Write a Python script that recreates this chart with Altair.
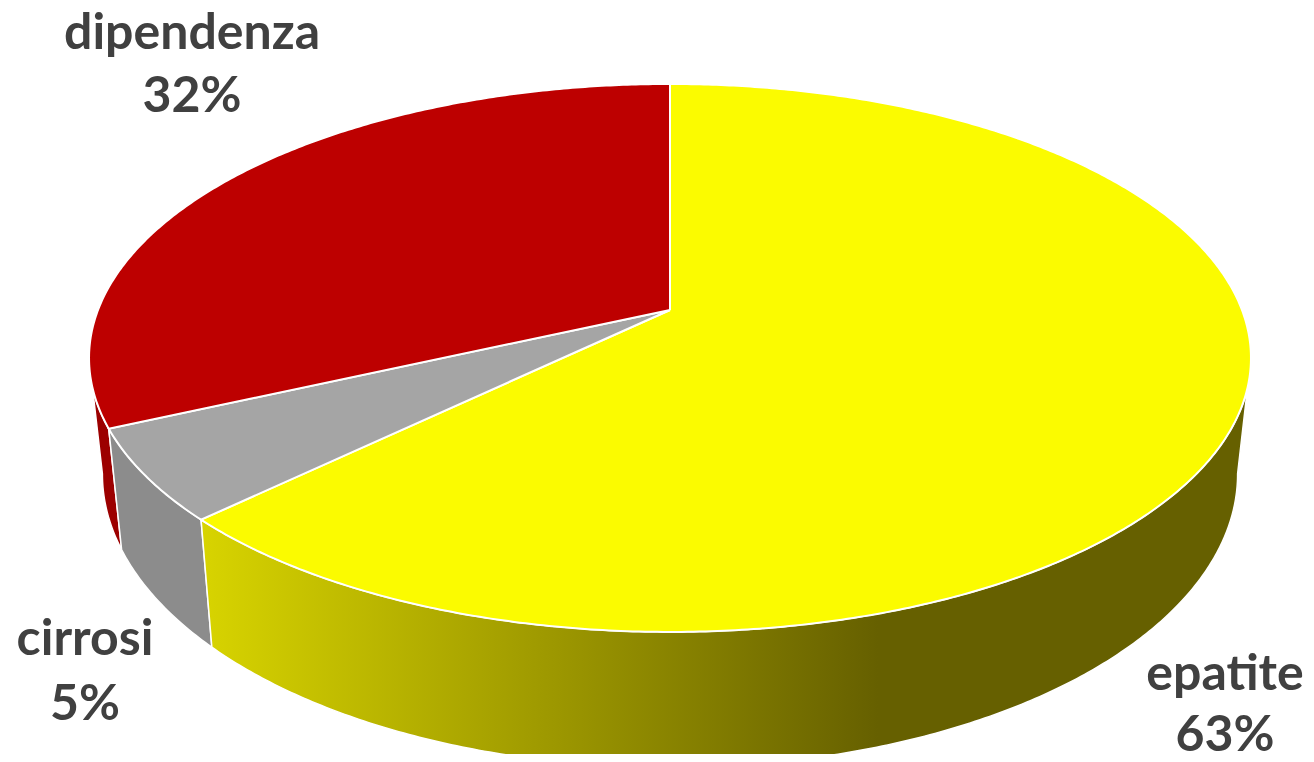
import math
import altair as alt
import pandas as pd

categories = ["epatite", "cirrosi", "dipendenza"]
shares = [62.8, 5.4, 31.8]
top_colors = ["#fbfb00", "#a5a5a5", "#bd0000"]
side_fills = [
    alt.Gradient(gradient="linear", x1=0, x2=1, y1=0, y2=0, stops=[
        alt.GradientStop(offset=0, color="#d8d400"),
        alt.GradientStop(offset=0.645, color="#666000"),
        alt.GradientStop(offset=1, color="#666000")]),
    alt.Gradient(gradient="linear", x1=0, x2=1, y1=0, y2=0, stops=[
        alt.GradientStop(offset=0, color="#8c8c8c"),
        alt.GradientStop(offset=1, color="#8c8c8c")]),
    "#9c0000",
]
label_x = [1225, 85, 192]
name_y = [675, 640, 34]
pct_y = [736, 705, 97]

CX, CY, A, B, K = 670, 310, 265.6, 572, 0.175
SX, DY0, DYK, YREF = 0.977, 121, 0.07, 427
FRONT_START, FRONT_END = 100, 260


def top(t):
    r = math.radians(t)
    d = 1 + K * math.cos(r)
    return CX + B * math.sin(r) / d, CY - A * math.cos(r) / d


def bottom(t):
    x, y = top(t)
    return CX + SX * (x - CX), y + DY0 + DYK * (y - YREF)


def arc(fn, a, b):
    n = max(2, int(abs(b - a) * 2))
    return [fn(a + (b - a) * i / n) for i in range(n + 1)]


def polygon(pts):
    pts = pts + [pts[0]]
    return pd.DataFrame({"x": [p[0] for p in pts], "y": [p[1] for p in pts], "o": range(len(pts))})


W, H = 1294, 746
xs = alt.Scale(domain=[8, 8 + W], range=[0, W])
ys = alt.Scale(domain=[8, 8 + H], range=[0, H])


def shape(df, fill, sw):
    return alt.Chart(df).mark_line(fill=fill, stroke="white", strokeWidth=sw, clip=True, interpolate="linear").encode(
        x=alt.X("x:Q", scale=xs, axis=None),
        y=alt.Y("y:Q", scale=ys, axis=None),
        order="o:Q",
    )


bounds = []
acc = 0
for s in shares:
    bounds.append((acc * 3.6, (acc + s) * 3.6))
    acc += s

side_layers = []
top_layers = []
for (a, b), tc, sf in zip(bounds, top_colors, side_fills):
    sa, sb = max(a, FRONT_START), min(b, FRONT_END)
    side_layers.append(shape(polygon(arc(top, sa, sb) + arc(bottom, sb, sa)), sf, 1.5))
    top_layers.append(shape(polygon([(CX, CY)] + arc(top, a, b)), tc, 2))
side_layers = [side_layers[2], side_layers[1], side_layers[0]]

labels = pd.DataFrame({
    "name": categories,
    "pct": [f"{round(s)}%" for s in shares],
    "x": label_x,
    "ny": name_y,
    "py": pct_y,
})
text_style = dict(font="Lato", fontWeight="bold", fontSize=50, color="#404040", align="center", baseline="middle")
names = alt.Chart(labels).mark_text(**text_style).encode(
    x=alt.X("x:Q", scale=xs, axis=None), y=alt.Y("ny:Q", scale=ys, axis=None), text="name:N")
pcts = alt.Chart(labels).mark_text(**text_style).encode(
    x=alt.X("x:Q", scale=xs, axis=None), y=alt.Y("py:Q", scale=ys, axis=None), text="pct:N")

chart = alt.layer(*side_layers, *top_layers, names, pcts).properties(
    width=W, height=H, padding=0
).configure_view(stroke=None)

chart.save("out.html", embed_options={"renderer": "svg", "actions": False})
